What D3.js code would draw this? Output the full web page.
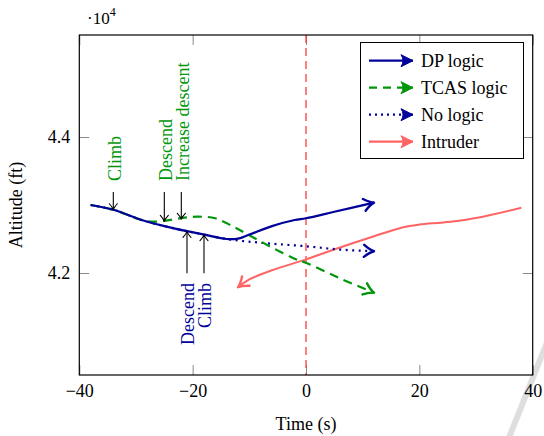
<!DOCTYPE html>
<html lang="en">
<head>
    <meta charset="utf-8">
    <title>Altitude vs time</title>
    <script type="text/javascript" src="https://cdn.jsdelivr.net/npm/d3@7"></script>
    <style>
        body { margin: 0; background: #fff; }
        text { font-family: "Liberation Serif", "Times New Roman", serif; }
    </style>
</head>
<body>
    <svg width="544" height="436"></svg>
    <script>
        // time in s, altitude in ft
        var dpTime = [-38, -34, -29, -25, -21, -18, -14, -12, -10, -6, -2, 0, 5, 12];
        var dpAlt = [43000, 42930, 42780, 42690, 42615, 42565, 42500, 42505, 42565, 42690, 42780, 42805, 42900, 43035];
        var tcasTime = [-38, -34, -29, -27, -25, -22, -19, -16, -13, -10, -6, -2, 0, 6, 12];
        var tcasAlt = [43000, 42930, 42780, 42755, 42765, 42808, 42828, 42805, 42690, 42555, 42375, 42210, 42150, 41920, 41710];
        var noTime = [-38, -34, -29, -25, -21, -18, -14, -8, 0, 6, 12];
        var noAlt = [43000, 42930, 42780, 42690, 42615, 42565, 42500, 42445, 42393, 42345, 42320];
        var intTime = [38, 31, 25, 20, 17, 12, 6, 0, -6, -10, -12];
        var intAlt = [42960, 42825, 42750, 42712, 42670, 42540, 42375, 42200, 42040, 41905, 41790];

        var xTicks = [-40, -20, 0, 20, 40];
        var yTicks = [42000, 44000];

        // annotations: label, time, arrow start alt, arrow tip alt
        var greenNotes = ["Climb", "Descend", "Increase descent"];
        var greenNoteTime = [-34, -25, -22];
        var greenNoteTip = [42930, 42760, 42790];
        var blueNotes = ["Descend", "Climb"];
        var blueNoteTime = [-21, -18];
        var blueNoteTip = [42613, 42565];

        var legendNames = ["DP logic", "TCAS logic", "No logic", "Intruder"];

        var svg = d3.select("svg");
        var x = d3.scaleLinear().domain([-40, 40]).range([79.3, 532.7]);
        var y = d3.scaleLinear().domain([40500, 45500]).range([375, 35]);

        // page curl smudge in the corner
        svg.append("line").attr("x1", 548).attr("y1", 340).attr("x2", 508).attr("y2", 440)
            .attr("stroke", "#dedede").attr("stroke-width", 6);

        var defs = svg.append("defs");
        function openHead(id, color) {
            defs.append("marker").attr("id", id)
                .attr("viewBox", "-12 -8 14 16").attr("refX", 0).attr("refY", 0)
                .attr("markerWidth", 14).attr("markerHeight", 16)
                .attr("markerUnits", "userSpaceOnUse").attr("orient", "auto")
                .append("path").attr("d", "M-10,-6 Q-4,-1 0,0 Q-4,1 -10,6")
                .attr("fill", "none").attr("stroke", color).attr("stroke-width", 2.4)
                .attr("stroke-linecap", "round").attr("stroke-linejoin", "round");
        }
        function fillHead(id, color) {
            defs.append("marker").attr("id", id)
                .attr("viewBox", "-14 -8 16 16").attr("refX", 0).attr("refY", 0)
                .attr("markerWidth", 16).attr("markerHeight", 16)
                .attr("markerUnits", "userSpaceOnUse").attr("orient", "auto")
                .append("path").attr("d", "M0,0 L-12,-6 Q-8,0 -12,6 Z")
                .attr("fill", color).attr("stroke", color).attr("stroke-width", 1)
                .attr("stroke-linejoin", "round");
        }
        var blue = "#00009a", green = "#00960a", pink = "#ff6464";
        openHead("hBlue", blue);
        openHead("hGreen", green);
        openHead("hPink", pink);
        fillHead("lBlue", blue);
        fillHead("lGreen", green);
        fillHead("lPink", pink);
        defs.append("marker").attr("id", "hBlack")
            .attr("viewBox", "-8 -5 10 10").attr("refX", 0).attr("refY", 0)
            .attr("markerWidth", 10).attr("markerHeight", 10)
            .attr("markerUnits", "userSpaceOnUse").attr("orient", "auto")
            .append("path").attr("d", "M-6,-4 Q-2,-0.5 0,0 Q-2,0.5 -6,4")
            .attr("fill", "none").attr("stroke", "#000").attr("stroke-width", 1.1)
            .attr("stroke-linecap", "round");

        // ticks (inside, grey) on all four sides
        svg.append("g").attr("transform", "translate(0,375)")
            .call(d3.axisBottom(x).tickValues(xTicks).tickSize(-10).tickPadding(9))
            .call(function (g) { g.select(".domain").remove(); });
        svg.append("g").attr("transform", "translate(0,35)")
            .call(d3.axisTop(x).tickValues(xTicks).tickSize(-10).tickFormat(""))
            .call(function (g) { g.select(".domain").remove(); });
        svg.append("g").attr("transform", "translate(79.3,0)")
            .call(d3.axisLeft(y).tickValues(yTicks).tickSize(-10).tickPadding(9)
                .tickFormat(function (d) { return d3.format(".1f")(d / 1e4); }))
            .call(function (g) { g.select(".domain").remove(); });
        svg.append("g").attr("transform", "translate(532.7,0)")
            .call(d3.axisRight(y).tickValues(yTicks).tickSize(-10).tickFormat(""))
            .call(function (g) { g.select(".domain").remove(); });
        svg.selectAll(".tick line").attr("stroke", "#8a8a8a").attr("stroke-width", 1);
        svg.selectAll(".tick text").attr("font-size", 18).attr("fill", "#000")
            .attr("font-family", "Liberation Serif, serif");

        // vertical marker at t = 0
        svg.append("line").attr("x1", x(0)).attr("x2", x(0)).attr("y1", 35).attr("y2", 375)
            .attr("stroke", "#ff3a3a").attr("stroke-width", 1.3).attr("stroke-dasharray", "8,5");

        var line = d3.line()
            .x(function (d) { return x(d[0]); })
            .y(function (d) { return y(d[1]); })
            .curve(d3.curveMonotoneX);
        var lineCR = d3.line()
            .x(function (d) { return x(d[0]); })
            .y(function (d) { return y(d[1]); })
            .curve(d3.curveCatmullRom.alpha(0.5));

        svg.append("path").attr("d", lineCR(d3.zip(intTime, intAlt)))
            .attr("fill", "none").attr("stroke", pink).attr("stroke-width", 2)
            .attr("marker-end", "url(#hPink)");
        svg.append("path").attr("d", line(d3.zip(noTime, noAlt)))
            .attr("fill", "none").attr("stroke", blue).attr("stroke-width", 2.2)
            .attr("stroke-dasharray", "2,4.5").attr("marker-end", "url(#hBlue)");
        svg.append("path").attr("d", lineCR(d3.zip(tcasTime, tcasAlt)))
            .attr("fill", "none").attr("stroke", green).attr("stroke-width", 2.2)
            .attr("stroke-dasharray", "9,6").attr("marker-end", "url(#hGreen)");
        svg.append("path").attr("d", lineCR(d3.zip(dpTime, dpAlt)))
            .attr("fill", "none").attr("stroke", blue).attr("stroke-width", 2.2)
            .attr("marker-end", "url(#hBlue)");

        // annotations
        greenNotes.forEach(function (s, i) {
            var px = x(greenNoteTime[i]);
            svg.append("line").attr("x1", px).attr("x2", px)
                .attr("y1", y(43190)).attr("y2", y(greenNoteTip[i]))
                .attr("stroke", "#000").attr("stroke-width", 1.1).attr("marker-end", "url(#hBlack)");
            svg.append("text").attr("transform", "translate(" + (px + 1) + "," + 181 + ") rotate(-90)")
                .attr("dy", "0.35em").attr("font-size", 18).attr("fill", green).text(s);
        });
        blueNotes.forEach(function (s, i) {
            var px = x(blueNoteTime[i]);
            svg.append("line").attr("x1", px).attr("x2", px)
                .attr("y1", y(41995)).attr("y2", y(blueNoteTip[i]))
                .attr("stroke", "#000").attr("stroke-width", 1.1).attr("marker-end", "url(#hBlack)");
            svg.append("text").attr("transform", "translate(" + (px + 1) + "," + 283 + ") rotate(-90)")
                .attr("dy", "0.35em").attr("text-anchor", "end")
                .attr("font-size", 18).attr("fill", blue).text(s);
        });

        // frame
        svg.append("rect").attr("x", 79.3).attr("y", 35).attr("width", 453.4).attr("height", 340)
            .attr("fill", "none").attr("stroke", "#000").attr("stroke-width", 1.2);

        // legend
        var leg = svg.append("g");
        leg.append("rect").attr("x", 360.5).attr("y", 42.5).attr("width", 163).attr("height", 116)
            .attr("fill", "#fff").attr("stroke", "#000").attr("stroke-width", 1);
        var legStyle = [
            { c: blue, d: null, m: "lBlue" },
            { c: green, d: "8,6", m: "lGreen" },
            { c: blue, d: "2,4", m: "lBlue" },
            { c: pink, d: null, m: "lPink" }
        ];
        legendNames.forEach(function (s, i) {
            var ly = 60.7 + i * 27;
            leg.append("line").attr("x1", 369).attr("x2", 413).attr("y1", ly).attr("y2", ly)
                .attr("stroke", legStyle[i].c).attr("stroke-width", 2.2)
                .attr("stroke-dasharray", legStyle[i].d).attr("marker-end", "url(#" + legStyle[i].m + ")");
            leg.append("text").attr("x", 421).attr("y", ly).attr("dy", "0.33em")
                .attr("font-size", 18).attr("fill", "#000").text(s);
        });

        // axis labels
        svg.append("text").attr("x", 306).attr("y", 430).attr("text-anchor", "middle")
            .attr("font-size", 18).text("Time (s)");
        svg.append("text").attr("transform", "translate(22,205) rotate(-90)")
            .attr("text-anchor", "middle").attr("font-size", 18).text("Altitude (ft)");
        var mult = svg.append("text").attr("x", 87).attr("y", 24).attr("font-size", 17);
        mult.append("tspan").text("\u00b710");
        mult.append("tspan").attr("font-size", 12).attr("dy", -8).text("4");
    </script>
</body>
</html>
